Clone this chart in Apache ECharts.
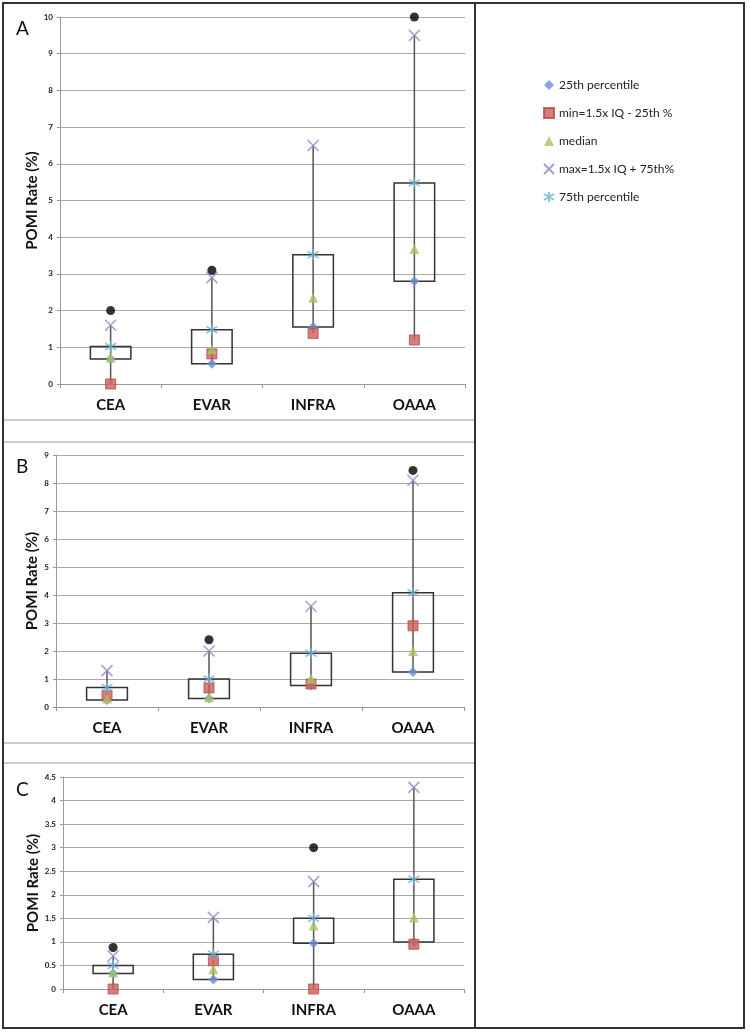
<!DOCTYPE html>
<html>
<head>
<meta charset="utf-8">
<script src="https://cdn.jsdelivr.net/npm/echarts@6/dist/echarts.min.js"></script>
<style>
  html, body { margin: 0; padding: 0; background: #fff; }
  #chart { width: 750px; height: 1032px; }
</style>
</head>
<body>
<div id="chart"></div>
<script>
// categories shared by the three panels
const categories = ['CEA', 'EVAR', 'INFRA', 'OAAA']

// panel A
const p25A = [0.68, 0.55, 1.55, 2.8]
const minA = [0, 0.82, 1.38, 1.2]
const medA = [0.72, 0.95, 2.35, 3.68]
const maxA = [1.6, 2.9, 6.5, 9.5]
const p75A = [1.02, 1.48, 3.52, 5.48]
const outA = [2.0, 3.1, null, 10]

// panel B
const p25B = [0.25, 0.3, 0.77, 1.25]
const minB = [0.4, 0.68, 0.82, 2.9]
const medB = [0.3, 0.35, 1.02, 2.0]
const maxB = [1.3, 2.0, 3.6, 8.1]
const p75B = [0.7, 1.0, 1.92, 4.08]
const outB = [null, 2.4, null, 8.45]

// panel C
const p25C = [0.33, 0.2, 0.97, 1.0]
const minC = [0, 0.6, 0, 0.95]
const medC = [0.35, 0.42, 1.35, 1.52]
const maxC = [0.7, 1.52, 2.28, 4.28]
const p75C = [0.5, 0.74, 1.5, 2.33]
const outC = [0.88, null, 3.0, null]

const yTicks = [
  { max: 10, interval: 1 },
  { max: 9, interval: 1 },
  { max: 4.5, interval: 0.5 }
]

const names = ['25th percentile', 'min=1.5x IQ - 25th %', 'median', 'max=1.5x IQ + 75th%', '75th percentile']

const FONT = 'Lato, "Open Sans", sans-serif'
const X_PATH = 'path://M0,0L10,10M10,0L0,10'
const STAR_PATH = 'path://M5,0L5,10M0,2L10,8M0,8L10,2'

const panels = [
  { p25: p25A, min: minA, med: medA, max: maxA, p75: p75A, out: outA },
  { p25: p25B, min: minB, med: medB, max: maxB, p75: p75B, out: outB },
  { p25: p25C, min: minC, med: medC, max: maxC, p75: p75C, out: outC }
]

const grids = [
  { left: 60, right: 285, top: 17, height: 367 },
  { left: 56, right: 286, top: 455, height: 252 },
  { left: 63, right: 286, top: 777, height: 212 }
]
const titleGaps = [20, 16, 22]

function renderBox(params, api) {
  const x = api.value(0)
  const lo = api.coord([x, api.value(1)])
  const q1 = api.coord([x, api.value(2)])
  const q3 = api.coord([x, api.value(3)])
  const hi = api.coord([x, api.value(4)])
  const w = api.size([1, 0])[0] * 0.4
  return {
    type: 'group',
    children: [
      {
        type: 'line',
        shape: { x1: lo[0], y1: lo[1], x2: hi[0], y2: hi[1] },
        style: { stroke: '#555', lineWidth: 1.5 }
      },
      {
        type: 'rect',
        shape: { x: q1[0] - w / 2, y: q3[1], width: w, height: q1[1] - q3[1] },
        style: { fill: 'none', stroke: '#333', lineWidth: 1.5 }
      }
    ]
  }
}

const xAxis = []
const yAxis = []
const series = []

panels.forEach((p, i) => {
  xAxis.push({
    type: 'category',
    gridIndex: i,
    data: categories,
    axisLine: { lineStyle: { color: '#999', width: 1 } },
    axisTick: { show: true, length: 4, lineStyle: { color: '#999' } },
    axisLabel: { color: '#111', fontFamily: FONT, fontWeight: 'bold', fontSize: 15, margin: 14 }
  })
  yAxis.push({
    type: 'value',
    gridIndex: i,
    min: 0,
    max: yTicks[i].max,
    interval: yTicks[i].interval,
    name: 'POMI Rate (%)',
    nameLocation: 'middle',
    nameRotate: 90,
    nameGap: titleGaps[i],
    nameMoveOverlap: false,
    nameTextStyle: { color: '#111', fontFamily: FONT, fontWeight: 'bold', fontSize: 15 },
    axisLine: { show: true, lineStyle: { color: '#999', width: 1 } },
    axisTick: { show: true, length: 3, lineStyle: { color: '#999' } },
    axisLabel: { color: '#222', fontFamily: FONT, fontWeight: 'bold', fontSize: 8, margin: 7 },
    splitLine: { lineStyle: { color: '#aaa', width: 1 } }
  })

  series.push({
    type: 'custom',
    xAxisIndex: i,
    yAxisIndex: i,
    renderItem: renderBox,
    encode: { x: 0, y: [1, 2, 3, 4] },
    data: categories.map((c, k) => [k, Math.min(p.min[k], p.p25[k]), p.p25[k], p.p75[k], p.max[k]]),
    silent: true,
    z: 1
  })

  const markers = [
    { vals: p.p25, symbol: 'diamond', size: 10, color: '#6d8fd6' },
    { vals: p.min, symbol: 'rect', size: 10, color: '#cf5c58', border: '#b54845' },
    { vals: p.med, symbol: 'triangle', size: 10, color: '#a7c463' },
    { vals: p.max, symbol: X_PATH, size: 11, color: '#9488c0', stroke: true },
    { vals: p.p75, symbol: STAR_PATH, size: 11, color: '#6fb3d6', stroke: true }
  ]
  markers.forEach((m, k) => {
    series.push({
      name: names[k],
      type: 'scatter',
      xAxisIndex: i,
      yAxisIndex: i,
      symbol: m.symbol,
      symbolSize: m.size,
      data: m.vals,
      itemStyle: m.stroke
        ? { color: m.color, borderColor: m.color, borderWidth: 1.6 }
        : { color: m.color, borderColor: m.border || m.color, borderWidth: m.border ? 1 : 0 },
      z: 3 + k
    })
  })
  series.push({
    name: 'outlier',
    type: 'scatter',
    xAxisIndex: i,
    yAxisIndex: i,
    symbol: 'circle',
    symbolSize: 9,
    data: p.out,
    itemStyle: { color: '#000' },
    z: 9
  })
})

const chart = echarts.init(document.getElementById('chart'))
chart.setOption({
  animation: false,
  backgroundColor: '#fff',
  grid: grids,
  xAxis: xAxis,
  yAxis: yAxis,
  legend: {
    data: names,
    orient: 'vertical',
    left: 538,
    top: 74,
    itemWidth: 10,
    itemHeight: 10,
    itemGap: 16,
    textStyle: { color: '#222', fontFamily: FONT, fontSize: 12 }
  },
  graphic: [
    // panel frames
    { type: 'rect', shape: { x: 3, y: 3, width: 741, height: 1025 }, style: { fill: 'none', stroke: '#333', lineWidth: 2 }, z: 100 },
    { type: 'line', shape: { x1: 475, y1: 3, x2: 475, y2: 1028 }, style: { stroke: '#333', lineWidth: 2 }, z: 100 },
    { type: 'line', shape: { x1: 3, y1: 420, x2: 475, y2: 420 }, style: { stroke: '#999', lineWidth: 1 } },
    { type: 'line', shape: { x1: 3, y1: 442, x2: 475, y2: 442 }, style: { stroke: '#999', lineWidth: 1 } },
    { type: 'line', shape: { x1: 3, y1: 743, x2: 475, y2: 743 }, style: { stroke: '#999', lineWidth: 1 } },
    { type: 'line', shape: { x1: 3, y1: 763, x2: 475, y2: 763 }, style: { stroke: '#999', lineWidth: 1 } },
    // panel letters
    { type: 'text', left: 16, top: 19, style: { text: 'A', font: '19px ' + FONT, fill: '#111' } },
    { type: 'text', left: 16, top: 457, style: { text: 'B', font: '19px ' + FONT, fill: '#111' } },
    { type: 'text', left: 16, top: 780, style: { text: 'C', font: '19px ' + FONT, fill: '#111' } }
  ],
  series: series
})
</script>
</body>
</html>
